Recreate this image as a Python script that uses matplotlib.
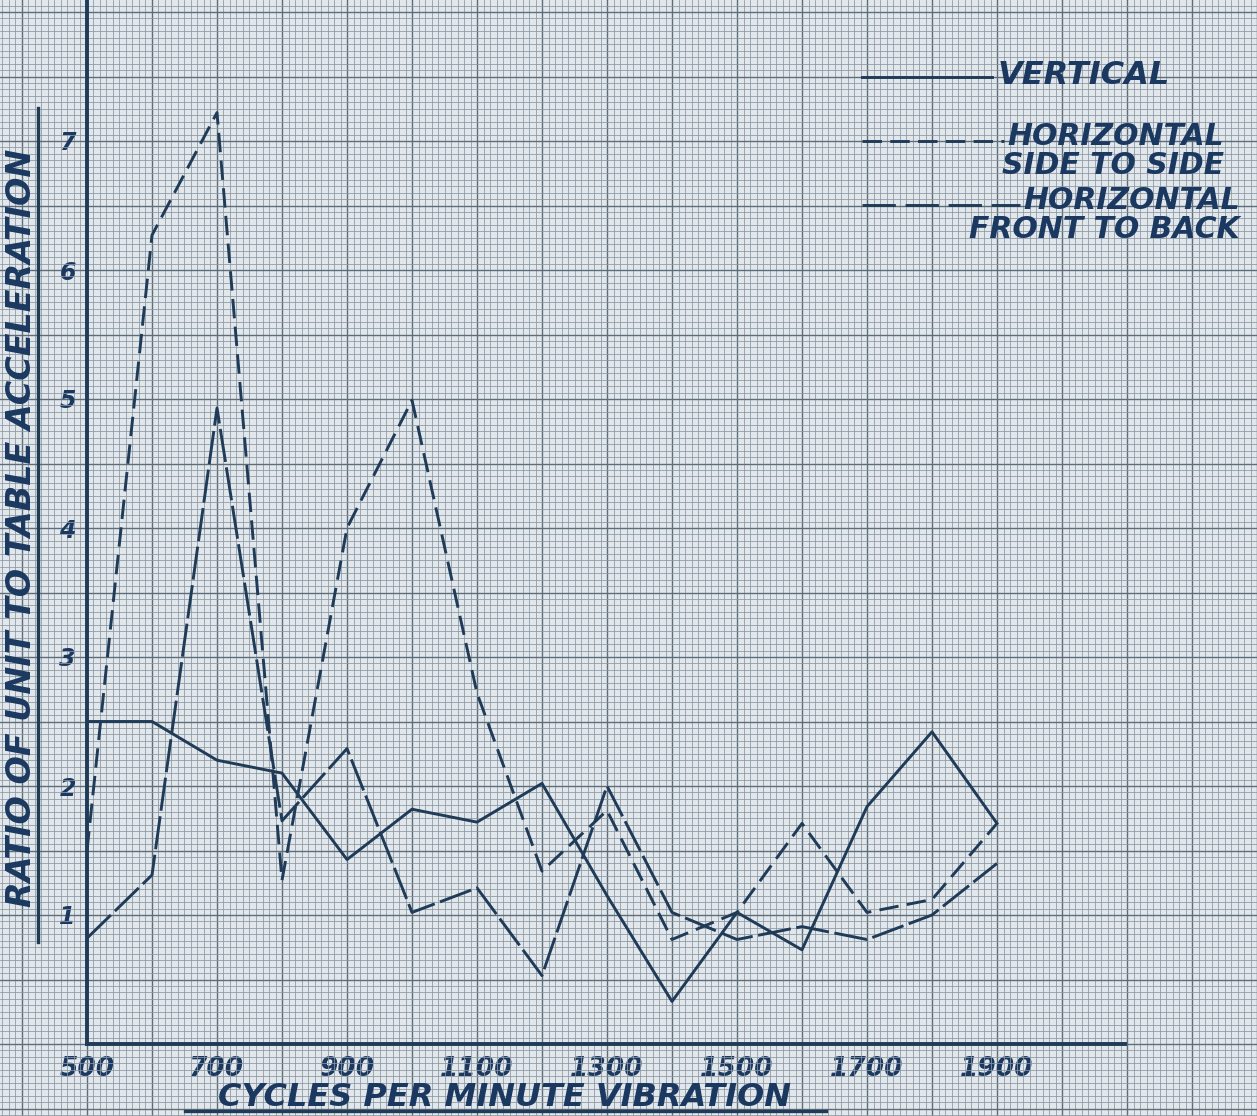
import numpy as np
import matplotlib
matplotlib.use("Agg")
import matplotlib.pyplot as plt
from matplotlib.ticker import MultipleLocator, FuncFormatter
from matplotlib.lines import Line2D

# data
cycles = [500, 600, 700, 800, 900, 1000, 1100, 1200, 1300, 1400, 1500, 1600, 1700, 1800, 1900]
vertical = [2.5, 2.5, 2.2, 2.1, 1.43, 1.82, 1.72, 2.02, 1.15, 0.33, 1.02, 0.73, 1.84, 2.42, 1.71]
side_to_side = [1.5, 6.27, 7.22, 1.27, 4.0, 4.99, 2.72, 1.34, 1.81, 0.81, 1.02, 1.71, 1.02, 1.12, 1.71]
front_to_back = [0.82, 1.31, 4.93, 1.73, 2.29, 1.02, 1.21, 0.53, 2.0, 1.02, 0.81, 0.91, 0.81, 1.0, 1.4]

x_labels = [500, 700, 900, 1100, 1300, 1500, 1700, 1900]
y_labels = [1, 2, 3, 4, 5, 6, 7]

W, H = 1257, 1116
INK = "#1f3b58"
TEXT = "#1b3960"
PAPER = "#e2e7eb"

plt.rcParams["font.family"] = ["DejaVu Sans"]
plt.rcParams["font.weight"] = "bold"
plt.rcParams["font.style"] = "italic"
plt.rcParams["lines.scale_dashes"] = False

fig = plt.figure(figsize=(W / 100, H / 100), dpi=100)
fig.patch.set_facecolor(PAPER)
ax = fig.add_axes([0, 0, 1, 1])
ax.set_facecolor(PAPER)

# pixel mapping of the sheet: 500 cpm at x=87, 0.65 px per cpm; 0 at y=1044, 129 px per unit
x0 = 500 - 87 / 0.65
x1 = 500 + (W - 87) / 0.65
y0 = (1044 - H) / 129
y1 = 1044 / 129
ax.set_xlim(x0, x1)
ax.set_ylim(y0, y1)

# graph paper
ax.xaxis.set_major_locator(MultipleLocator(100))
ax.xaxis.set_minor_locator(MultipleLocator(10))
ax.yaxis.set_major_locator(MultipleLocator(0.5))
ax.yaxis.set_minor_locator(MultipleLocator(0.05))
ax.grid(which="minor", color="#8896a2", lw=0.55)
ax.grid(which="major", color="#5d6d7a", lw=1.0)
ax.set_axisbelow(True)

ax.xaxis.set_major_formatter(FuncFormatter(
    lambda v, p: f"{int(round(v))}" if int(round(v)) in x_labels else ""))
ax.yaxis.set_major_formatter(FuncFormatter(
    lambda v, p: f"{int(round(v))}" if abs(v - round(v)) < 1e-6 and int(round(v)) in y_labels else ""))
ax.tick_params(axis="x", which="both", length=0, pad=9, labelsize=19, labelcolor=TEXT)
ax.tick_params(axis="y", which="both", length=0, pad=8, labelsize=17, labelcolor=TEXT)

for s in ["top", "right"]:
    ax.spines[s].set_visible(False)
ax.spines["left"].set_position(("data", 500))
ax.spines["left"].set_bounds(0, y1)
ax.spines["bottom"].set_position(("data", 0))
ax.spines["bottom"].set_bounds(500, 2097)
for s in ["left", "bottom"]:
    ax.spines[s].set_color(INK)
    ax.spines[s].set_linewidth(2.8)
    ax.spines[s].set_zorder(4)

# curves
ax.plot(cycles, vertical, color=INK, lw=2.1, zorder=5)
ax.plot(cycles, side_to_side, color=INK, lw=2.1, dashes=(14, 6), zorder=5)
ax.plot(cycles, front_to_back, color=INK, lw=2.1, dashes=(24, 4), zorder=5)


def fx(px):
    return px / W


def fy(py):
    return 1 - py / H


# legend drawn like the hand lettered key
ax.plot([fx(862), fx(992)], [fy(77), fy(77)], color=INK, lw=2.1, transform=ax.transAxes)
ax.plot([fx(862), fx(1004)], [fy(141), fy(141)], color=INK, lw=2.1, dashes=(14, 6),
        transform=ax.transAxes)
ax.plot([fx(862), fx(1020)], [fy(205), fy(205)], color=INK, lw=2.1, dashes=(24, 7),
        transform=ax.transAxes)
ax.text(fx(998), fy(76), "VERTICAL", color=TEXT, fontsize=23, va="center", ha="left",
        transform=ax.transAxes)
ax.text(fx(1224), fy(151), "HORIZONTAL\nSIDE TO SIDE", color=TEXT, fontsize=21.5,
        va="center", ha="right", multialignment="right", linespacing=1.0,
        transform=ax.transAxes)
ax.text(fx(1240), fy(215), "HORIZONTAL\nFRONT TO BACK", color=TEXT, fontsize=21.5,
        va="center", ha="right", multialignment="right", linespacing=1.0,
        transform=ax.transAxes)

# axis titles with their underlines
fig.text(fx(505), fy(1097), "CYCLES PER MINUTE VIBRATION", color=TEXT, fontsize=23,
         ha="center", va="center")
fig.add_artist(Line2D([fx(185), fx(826)], [fy(1111), fy(1111)], color=INK, lw=2.4))
fig.text(fx(22), fy(528), "RATIO OF UNIT TO TABLE ACCELERATION", color=TEXT, fontsize=24,
         ha="center", va="center", rotation=90)
fig.add_artist(Line2D([fx(38), fx(38)], [fy(108), fy(942)], color=INK, lw=2.4))

fig.savefig("out.png", dpi=100, facecolor=PAPER)
